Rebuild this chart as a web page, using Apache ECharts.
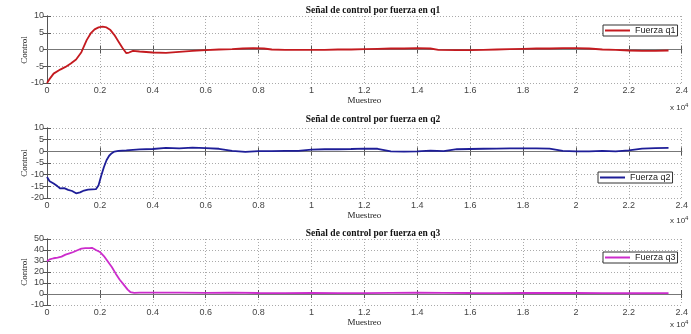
<!DOCTYPE html>
<html>
<head>
<meta charset="utf-8">
<script src="https://cdn.jsdelivr.net/npm/echarts@6/dist/echarts.min.js"></script>
<style>
html,body{margin:0;padding:0;background:#fff;}
#c{width:691px;height:334px;}
</style>
</head>
<body>
<div id="c"></div>
<script>
// ---- Data ----
var titles = ['Señal de control por fuerza en q1', 'Señal de control por fuerza en q2', 'Señal de control por fuerza en q3'];
var seriesNames = ['Fuerza q1', 'Fuerza q2', 'Fuerza q3'];
var yAxisName = 'Control';
var xAxisName = 'Muestreo';
var xTickLabels = ['0','0.2','0.4','0.6','0.8','1','1.2','1.4','1.6','1.8','2','2.2','2.4'];

var q1X = [0,80,250,500,700,900,1100,1300,1500,1650,1800,1950,2100,2250,2400,2550,2700,2850,3000,3100,3250,3500,4000,4500,5000,5500,6000,6500,7000,7400,7800,8200,8500,9000,9500,10000,10500,11000,11500,12000,12500,13000,13500,14000,14500,14800,15500,16000,16500,17000,17500,18000,18500,19000,19500,20000,20500,21000,21500,22000,22500,23000,23500];
var q1Y = [-10,-9,-7.2,-6,-5.2,-4.2,-3,-0.8,2.8,4.8,6.0,6.6,6.8,6.6,5.8,4.3,2.4,0.5,-1.1,-0.9,-0.4,-0.6,-0.9,-1.0,-0.7,-0.4,-0.2,0,0.1,0.3,0.4,0.3,0,-0.1,-0.1,-0.1,-0.1,0,0,0.1,0.2,0.3,0.3,0.4,0.3,-0.1,-0.2,-0.2,-0.1,0,0.1,0.2,0.3,0.3,0.4,0.4,0.3,0,-0.1,-0.3,-0.4,-0.4,-0.3];

var q2X = [0,100,250,400,500,650,800,950,1100,1250,1400,1550,1700,1850,1950,2050,2150,2250,2350,2450,2550,2700,3000,3500,4000,4500,5000,5500,6000,6500,7000,7500,8000,8500,9000,9500,10000,10500,11000,11500,12000,12500,13000,13500,14000,14500,15000,15500,16000,16500,17000,17500,18000,18500,19000,19500,20000,20500,21000,21500,22000,22500,23000,23500];
var q2Y = [-11,-12.8,-13.8,-15,-15.9,-15.8,-16.5,-17,-18,-17.6,-16.8,-16.4,-16.3,-16.2,-14.5,-10.5,-6.8,-3.8,-1.9,-0.8,-0.1,0.2,0.4,0.8,1.0,1.5,1.3,1.6,1.4,1.1,0.2,-0.2,0.1,0.1,0.2,0.2,0.7,0.9,0.9,1.0,1.2,1.1,0,-0.1,0,0.3,0.1,0.9,1.0,1.1,1.2,1.3,1.3,1.3,1.2,0.2,0,0,0.2,0,0.4,1.2,1.4,1.5];

var q3X = [0,100,250,400,550,700,850,1000,1150,1300,1450,1600,1700,1850,2000,2150,2300,2450,2600,2750,2900,3050,3150,3300,3500,4000,5000,6000,7000,8000,9000,10000,11000,12000,13000,14000,15000,16000,17000,18000,19000,20000,21000,22000,23000,23500];
var q3Y = [29.7,31.5,32.5,33,34,35.8,37,38.2,39.8,41.3,41.7,41.7,42,40,38.2,34.5,29.5,24.5,18.5,13,8.5,4,1.8,1,1.2,1.3,1.2,1,1.2,0.9,0.8,0.9,0.8,0.8,1.1,1.2,1.1,0.9,0.8,0.9,0.9,0.9,0.8,0.7,0.8,0.8];

var yRanges = [[-10,10,5],[-20,10,5],[-10,50,10]];
var colors = ['#c41a1f','#1e1e98','#cc2ccc'];

// ---- Layout ----
var grids = [
  {left:47, right:9, top:16, height:67},
  {left:47, right:9, top:128, height:70},
  {left:47, right:9, top:239, height:66}
];
var titleTops = [1, 110, 224];
var legendPos = [{left:603, top:25}, {left:598, top:172}, {left:603, top:252}];
var x10Tops = [102, 215, 319];
var yNameCenters = [50, 163, 272];

function zip(a, b){ return a.map(function(v,i){ return [v, b[i]]; }); }
var allX = [q1X, q2X, q3X];
var allY = [q1Y, q2Y, q3Y];

var axisCol = '#555';
var graphics = [];
x10Tops.forEach(function(t){
  graphics.push({type:'text', left:670, top:t,
    style:{text:'x 10{s|4}', rich:{s:{fontSize:6, verticalAlign:'top', padding:[0,0,6,0], fontFamily:'Liberation Sans', fill:'#333'}},
      font:'8px Liberation Sans', fill:'#333'}});
});
yNameCenters.forEach(function(c){
  graphics.push({type:'text', x:25, y:c, rotation:Math.PI/2,
    style:{text:yAxisName, font:'9px Liberation Serif', fill:'#222', textAlign:'center', textVerticalAlign:'middle'}});
});

var option = {
  animation:false,
  backgroundColor:'#fff',
  title: titles.map(function(t,i){
    return {text:t, left:368, textAlign:'center', top:titleTops[i],
      textStyle:{fontFamily:'Liberation Serif', fontWeight:'bold', fontSize:9.5, color:'#111'}};
  }),
  grid: grids,
  legend: seriesNames.map(function(n,i){
    return {data:[n], left:legendPos[i].left, top:legendPos[i].top, orient:'horizontal',
      backgroundColor:'#fff', borderColor:'#333', borderWidth:1, padding:[1,2,1,2],
      itemWidth:25, itemHeight:2, icon:'rect',
      textStyle:{fontFamily:'Liberation Sans', fontSize:9, color:'#222'}};
  }),
  xAxis: [],
  yAxis: [],
  series: [],
  graphic: graphics
};

for (var i=0;i<3;i++){
  option.xAxis.push({
    type:'value', gridIndex:i, min:0, max:24000, interval:2000, position:'bottom',
    name:xAxisName, nameLocation:'middle', nameGap:13,
    nameTextStyle:{fontFamily:'Liberation Serif', fontSize:9, color:'#222'},
    axisLine:{show:true, lineStyle:{color:axisCol, width:1}},
    axisTick:{show:true, inside:true, length:4, lineStyle:{color:axisCol}},
    axisLabel:{margin:3, fontFamily:'Liberation Sans', fontSize:9, color:'#444',
      formatter:function(v){ return xTickLabels[Math.round(v/2000)]; }},
    splitLine:{show:true, lineStyle:{type:[1,2], color:'#aaa', width:1}}
  });
  option.xAxis.push({
    type:'value', gridIndex:i, min:0, max:24000, interval:2000, position:'top',
    axisLine:{show:true, lineStyle:{color:axisCol, width:1}},
    axisTick:{show:true, inside:true, length:4, lineStyle:{color:axisCol}},
    axisLabel:{show:false}, splitLine:{show:false}
  });
  option.yAxis.push({
    type:'value', gridIndex:i, min:yRanges[i][0], max:yRanges[i][1], interval:yRanges[i][2], position:'left',
    axisLine:{show:true, lineStyle:{color:axisCol, width:1}},
    axisTick:{show:true, inside:true, length:4, lineStyle:{color:axisCol}},
    axisLabel:{margin:3, fontFamily:'Liberation Sans', fontSize:9, color:'#444'},
    splitLine:{show:true, lineStyle:{type:[1,2], color:'#aaa', width:1}}
  });
  option.yAxis.push({
    type:'value', gridIndex:i, min:yRanges[i][0], max:yRanges[i][1], interval:yRanges[i][2], position:'right',
    axisLine:{show:true, lineStyle:{color:axisCol, width:1}},
    axisTick:{show:true, inside:true, length:4, lineStyle:{color:axisCol}},
    axisLabel:{show:false}, splitLine:{show:false}
  });
  option.series.push({
    type:'line', name:seriesNames[i], xAxisIndex:2*i, yAxisIndex:2*i,
    data: zip(allX[i], allY[i]), showSymbol:false, symbol:'none',
    lineStyle:{color:colors[i], width:1.8}, itemStyle:{color:colors[i]},
    markLine:{silent:true, symbol:'none', label:{show:false}, z:1,
      lineStyle:{color:'#777', type:'solid', width:1}, data:[{yAxis:0}]}
  });
}

var chart = echarts.init(document.getElementById('c'), null, {renderer:'canvas'});
chart.setOption(option);
</script>
</body>
</html>
